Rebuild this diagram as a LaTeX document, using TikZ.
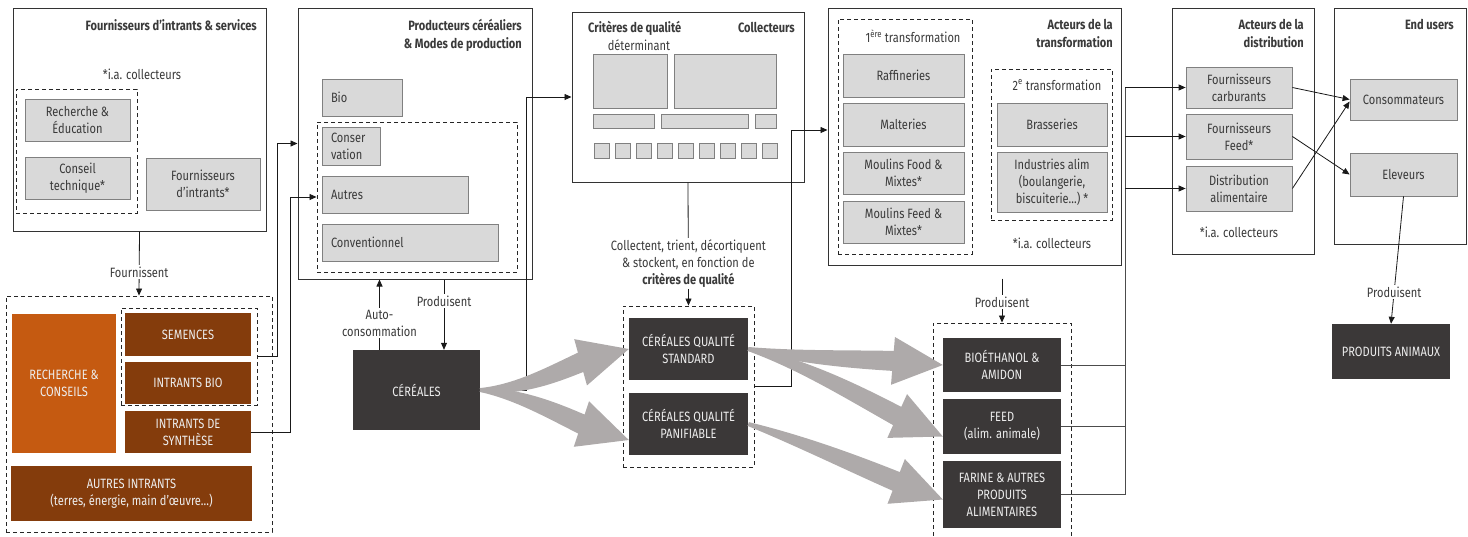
\documentclass[tikz,border=0pt]{standalone}
\usepackage{fontspec}
\setmainfont{Fira Sans}[FakeStretch=0.82]
\usetikzlibrary{arrows.meta,calc}

\definecolor{txt}{HTML}{3A3A3A}
\definecolor{boxfill}{HTML}{D9D9D9}
\definecolor{boxline}{HTML}{808080}
\definecolor{darkfill}{HTML}{3B3838}
\definecolor{rustfill}{HTML}{843C0C}
\definecolor{ochrefill}{HTML}{C55A11}
\definecolor{fatgray}{HTML}{AEAAAA}
\definecolor{lighttxt}{HTML}{EDEDED}

% wide grey flow arrow: from, to, bend
\newcommand\fatarrow[3]{%
  \path let \p1=(#1), \p2=(#2) in \pgfextra{%
    \pgfmathsetmacro\falen{veclen(\x2-\x1,\y2-\y1)}%
    \pgfmathsetmacro\faang{atan2(\y2-\y1,\x2-\x1)}%
    \xdef\falen{\falen}\xdef\faang{\faang}};
  \pgfmathsetmacro\fabase{\falen-50}%
  \fill[fatgray,shift={(#1)},rotate=\faang]
    (0,-2) .. controls (\fabase/3,#3-6) and (2*\fabase/3,#3/2-9) .. (\fabase,-10)
    -- (\fabase,-24) -- (\falen,0) -- (\fabase,24) -- (\fabase,10)
    .. controls (2*\fabase/3,#3/2+9) and (\fabase/3,#3+6) .. (0,2) -- cycle;
}

\tikzset{
  frame/.style={draw=black!80, line width=1pt, inner sep=0pt},
  dashbox/.style={draw=black!85, line width=0.9pt, dash pattern=on 4pt off 3pt, inner sep=0pt},
  graybox/.style={draw=boxline, fill=boxfill, line width=0.8pt, inner sep=2pt, align=center},
  leftbox/.style={graybox, align=left, inner xsep=9pt},
  darkbox/.style={fill=darkfill, text=lighttxt, inner sep=2pt, align=center},
  rustbox/.style={fill=rustfill, text=lighttxt, inner sep=2pt, align=center},
  ochrebox/.style={fill=ochrefill, text=lighttxt, inner sep=2pt, align=center},
  title/.style={font=\fontsize{13.5}{18}\selectfont\bfseries, align=right, anchor=north east, inner sep=0pt},
  note/.style={inner sep=1pt, align=center},
  lbl/.style={fill=white, inner sep=1.5pt, align=center},
  link/.style={draw=black!70, line width=0.8pt},
  arr/.style={draw=black!90, line width=0.8pt, -{Triangle[length=7pt,width=6pt]}}
}

\begin{document}
\begin{tikzpicture}[x=1pt, y=-1pt, font=\fontsize{13.5}{17}\selectfont, text=txt]
\useasboundingbox (0,0) rectangle (1468,536);
\clip (0,0) rectangle (1468,536);

% fournisseurs d'intrants
\node[frame, minimum width=253, minimum height=223] (fourn) at (139.5,119.5) {};
\node[title] at (257,19) {Fournisseurs d’intrants \& services};
\node[note] (noteA) at (142,74) {*i.a. collecteurs};
\node[dashbox, minimum width=121, minimum height=124] (conseils) at (76.5,151) {};
\node[graybox, minimum width=105, minimum height=42] (rech) at (77.5,120) {Recherche \&\\Éducation};
\node[graybox, minimum width=105, minimum height=42] (tech) at (77.5,178) {Conseil\\technique*};
\node[graybox, minimum width=114, minimum height=52] (fintr) at (203,184) {Fournisseurs\\d’intrants*};

% intrants
\node[dashbox, minimum width=266, minimum height=236] (inp) at (139,414) {};
\node[ochrebox, minimum width=104, minimum height=139] (rc) at (64,383.5) {RECHERCHE \&\\CONSEILS};
\node[dashbox, minimum width=136, minimum height=97] (sembio) at (189,356.5) {};
\node[rustbox, minimum width=126, minimum height=43] (sem) at (188,334.5) {SEMENCES};
\node[rustbox, minimum width=126, minimum height=42] (ibio) at (188,383) {INTRANTS BIO};
\node[rustbox, minimum width=126, minimum height=42] (isyn) at (188,432) {INTRANTS DE\\SYNTHÈSE};
\node[rustbox, minimum width=241, minimum height=55] (autin) at (131.5,493.5) {AUTRES INTRANTS\\(terres, énergie, main d’œuvre…)};

% producteurs
\node[frame, minimum width=234, minimum height=271] (prod) at (415,143.5) {};
\node[title] at (522,19) {Producteurs céréaliers\\\& Modes de production};
\node[leftbox, text width=62, minimum height=37] (bio) at (362,97.5) {Bio};
\node[dashbox, minimum width=200, minimum height=150] (convd) at (417,197) {};
\node[leftbox, text width=40, minimum height=38] (cons) at (351,146) {Conser\\vation};
\node[leftbox, text width=128, minimum height=37] (autres) at (395,194.5) {Autres};
\node[leftbox, text width=158, minimum height=37] (conv) at (410,242.5) {Conventionnel};
\node[darkbox, minimum width=127, minimum height=80] (cer) at (416.5,390) {CÉRÉALES};

% collecteurs
\node[frame, minimum width=232, minimum height=170] (coll) at (688,97) {};
\node[font=\fontsize{13.5}{17}\selectfont\bfseries, anchor=base west, inner sep=0pt] at (588,32) {Critères de qualité};
\node[font=\fontsize{13.5}{17}\selectfont\bfseries, anchor=base east, inner sep=0pt] at (795,32) {Collecteurs};
\node[note] at (639,45) {déterminant};
\node[graybox, minimum width=74, minimum height=54] (crit1) at (630,81) {};
\node[graybox, minimum width=102, minimum height=54] (crit2) at (725,81) {};
\node[graybox, minimum width=61, minimum height=14, inner sep=0pt] (crit3) at (623.5,121) {};
\node[graybox, minimum width=87, minimum height=14, inner sep=0pt] (crit4) at (704.5,121) {};
\node[graybox, minimum width=21, minimum height=14, inner sep=0pt] (crit5) at (765.5,121) {};
\foreach \i in {0,...,8}
  \node[graybox, minimum size=15, inner sep=0pt] (sq\i) at (601.5+21*\i,150.5) {};
\node[dashbox, minimum width=131, minimum height=161] (qual) at (688.5,386.5) {};
\node[darkbox, minimum width=119, minimum height=62] (std) at (688.5,349) {CÉRÉALES QUALITÉ\\STANDARD};
\node[darkbox, minimum width=119, minimum height=62] (pan) at (688.5,424) {CÉRÉALES QUALITÉ\\PANIFIABLE};

% transformation
\node[frame, minimum width=293, minimum height=257] (transf) at (974.5,136.5) {};
\node[title] at (1113,19) {Acteurs de la\\transformation};
\node[dashbox, minimum width=134, minimum height=235] (tr1) at (905,136.5) {};
\node[note] at (913,36) {1\textsuperscript{ère} transformation};
\node[graybox, minimum width=121, minimum height=43] (raff) at (903.5,75.5) {Raffineries};
\node[graybox, minimum width=121, minimum height=43] (malt) at (903.5,124.5) {Malteries};
\node[graybox, minimum width=121, minimum height=42] (mfood) at (903.5,173) {Moulins Food \&\\Mixtes*};
\node[graybox, minimum width=121, minimum height=42] (mfeed) at (903.5,222) {Moulins Feed \&\\Mixtes*};
\node[dashbox, minimum width=121, minimum height=151] (tr2) at (1051.5,144.5) {};
\node[note] at (1057,85) {2\textsuperscript{e} transformation};
\node[graybox, minimum width=110, minimum height=43] (brass) at (1052,124.5) {Brasseries};
\node[graybox, minimum width=110, minimum height=60] (indus) at (1052,182) {Industries alim\\(boulangerie,\\biscuiterie…) *};
\node[note] (noteB) at (1052,243) {*i.a. collecteurs};

\node[dashbox, minimum width=138, minimum height=222] (prodd) at (1002,434) {};
\node[darkbox, minimum width=118, minimum height=54] (bioeth) at (1002,365) {BIOÉTHANOL \&\\AMIDON};
\node[darkbox, minimum width=118, minimum height=55] (feed) at (1002,426.5) {FEED\\(alim. animale)};
\node[darkbox, minimum width=118, minimum height=67] (farine) at (1002,494.5) {FARINE \& AUTRES\\PRODUITS\\ALIMENTAIRES};

% distribution
\node[frame, minimum width=142, minimum height=246] (distr) at (1243,131) {};
\node[title] at (1304,19) {Acteurs de la\\distribution};
\node[graybox, minimum width=106, minimum height=41] (fcarb) at (1239,87.5) {Fournisseurs\\carburants};
\node[graybox, minimum width=106, minimum height=45] (ffeed) at (1239,136.5) {Fournisseurs\\Feed*};
\node[graybox, minimum width=106, minimum height=45] (dalim) at (1239,188.5) {Distribution\\alimentaire};
\node[note] (noteC) at (1239,232) {*i.a. collecteurs};

% end users
\node[frame, minimum width=132, minimum height=236] (endu) at (1400,126) {};
\node[title] at (1454,19) {End users};
\node[graybox, minimum width=107, minimum height=41] (conso) at (1403.5,99.5) {Consommateurs};
\node[graybox, minimum width=107, minimum height=43] (elev) at (1403.5,174.5) {Eleveurs};
\node[darkbox, minimum width=118, minimum height=55] (panim) at (1391,351.5) {PRODUITS ANIMAUX};

% connectors
\draw[arr] (fourn.south) -- node[lbl, pos=0.63] {Fournissent} (inp.north);
\draw[arr] (sembio.east) -- ++(20,0) |- (prod.west);
\draw[arr] (isyn.east) -- ++(39,0) |- (convd.west);
\draw[arr] (cer.east) -- ++(46,0) |- (coll.west);
\draw[arr] ([xshift=-37pt]cer.north) -- node[lbl, pos=0.38] {Auto-\\consommation} ([xshift=-37pt]cer.north |- prod.south);
\draw[arr] ([xshift=29pt]prod.south) -- node[lbl, pos=0.31] {Produisent} ([xshift=29pt]prod.south |- cer.north);
\draw[arr] (coll.south) -- node[lbl, pos=0.66] {Collectent, trient, décortiquent\\\& stockent, en fonction de\\\textbf{critères de qualité}} (qual.north);
\draw[arr] (qual.east) -- ++(37,0) |- ([yshift=6.5pt]transf.west);
\path (transf.south -| prodd.north) ++(0,13) coordinate (pstart);
\draw[arr] (pstart) -- node[lbl, pos=0.53] {Produisent} (prodd.north);

\coordinate (bus) at (1125,0);
\foreach \p in {bioeth,feed,farine}
  \draw[link] (\p.east) -- (\p.east -| bus);
\draw[link] (farine.east -| bus) -- (fcarb.west -| bus);
\foreach \d in {fcarb,ffeed,dalim}
  \draw[arr] (\d.west -| bus) -- (\d.west);

\draw[arr] (fcarb.east) -- (conso.west);
\draw[arr] (ffeed.east) -- (elev.west);
\draw[arr] (dalim.east) -- ([yshift=-2pt]conso.west);
\draw[arr] (elev.south) -- node[lbl, pos=0.75] {Produisent} (panim.north);

% grain flows
\fatarrow{cer.east}{std.west}{10}
\fatarrow{cer.east}{[yshift=-16pt]pan.west}{-8}
\fatarrow{std.east}{bioeth.west}{4}
\fatarrow{std.east}{[yshift=-10pt]feed.west}{-8}
\fatarrow{pan.east}{[yshift=-5pt]farine.west}{-3}
\end{tikzpicture}
\end{document}
